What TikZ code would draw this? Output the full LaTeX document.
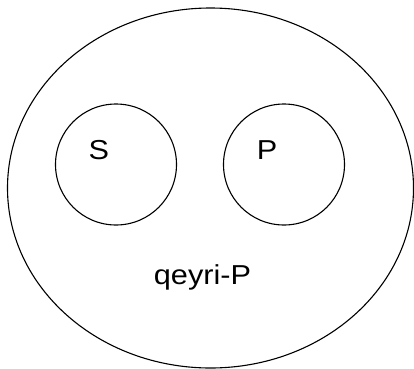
\documentclass[tikz,border=0pt]{standalone}
\usepackage{fontspec}
\usetikzlibrary{shapes.geometric}
\newfontfamily\labfont[FakeStretch=1.12]{Liberation Sans}
\begin{document}
\begin{tikzpicture}[x=1bp,y=-1bp,
  setline/.style={draw=black,line width=1.1bp},
  lab/.style={font=\labfont\fontsize{27.5}{30}\selectfont,inner sep=0pt,anchor=base}]
\useasboundingbox (0,0) rectangle (414,369);
\node[setline,ellipse,minimum width=406bp,minimum height=360bp,inner sep=0pt] (U) at (210.5,188) {};
\node[setline,circle,minimum size=121bp,inner sep=0pt] (Sc) at (116,164.5) {};
\node[setline,circle,minimum size=121bp,inner sep=0pt] (Pc) at (284,164.5) {};
\node[lab] (S) at (98.8,159.3) {S};
\node[lab] (P) at (267,159.3) {P};
\node[lab] (Q) at (202.5,284.3) {qeyri-P};
\end{tikzpicture}
\end{document}
